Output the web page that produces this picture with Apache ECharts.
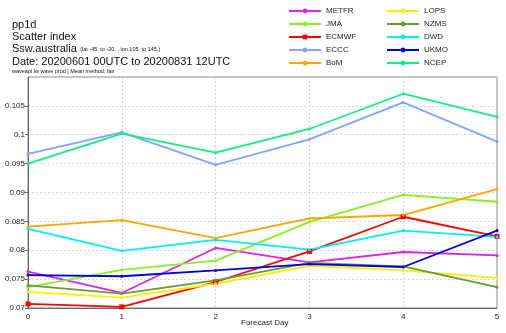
<!DOCTYPE html>
<html><head><meta charset="utf-8">
<script src="https://cdn.jsdelivr.net/npm/echarts@6/dist/echarts.min.js"></script>
<style>html,body{margin:0;padding:0;background:#fff}#c{width:506px;height:333px}</style>
</head><body><div id="c"></div>
<script>
const days = [0, 1, 2, 3, 4, 5];
const METFR = [0.0763, 0.0726, 0.0804, 0.0779, 0.0797, 0.0791];
const JMA   = [0.0736, 0.0766, 0.0782, 0.0849, 0.0896, 0.0884];
const ECMWF = [0.0707, 0.0702, 0.0745, 0.0798, 0.0858, 0.0824];
const ECCC  = [0.0967, 0.1004, 0.0948, 0.0992, 0.1056, 0.0988];
const BoM   = [0.0841, 0.0852, 0.0821, 0.0855, 0.0861, 0.0906];
const LOPS  = [0.0728, 0.0718, 0.0742, 0.0773, 0.0765, 0.0752];
const NZMS  = [0.0739, 0.0725, 0.0748, 0.0778, 0.0772, 0.0736];
const DWD   = [0.0837, 0.0799, 0.0818, 0.0801, 0.0834, 0.0823];
const UKMO  = [0.0757, 0.0755, 0.0765, 0.0776, 0.0771, 0.0834];
const NCEP  = [0.0950, 0.1002, 0.0969, 0.1010, 0.1071, 0.1031];
const yTicks = [0.07, 0.075, 0.08, 0.085, 0.09, 0.095, 0.1, 0.105];

const seriesDefs = [
  ['METFR', METFR, '#dd22ee', 'circle'],
  ['JMA', JMA, '#88f022', 'circle'],
  ['ECMWF', ECMWF, '#ff0000', 'rect'],
  ['ECCC', ECCC, '#7fa6ff', 'circle'],
  ['BoM', BoM, '#ffa500', 'circle'],
  ['LOPS', LOPS, '#f5f000', 'circle'],
  ['NZMS', NZMS, '#6a9a32', 'circle'],
  ['DWD', DWD, '#00f0f0', 'circle'],
  ['UKMO', UKMO, '#0000dd', 'circle'],
  ['NCEP', NCEP, '#10f080', 'circle']
];

const chart = echarts.init(document.getElementById('c'), null, {renderer: 'canvas'});
const font = 'Liberation Sans, Arial, sans-serif';
const legendBase = {
  orient: 'vertical', itemWidth: 32, itemHeight: 6, itemGap: 3,
  textStyle: {fontFamily: font, fontSize: 8, color: '#222', lineHeight: 10},
  selectedMode: false, padding: 0
};
const option = {
  animation: false,
  backgroundColor: '#fff',
  textStyle: {fontFamily: font},
  legend: [
    Object.assign({}, legendBase, {left: 288, top: 6, data: seriesDefs.slice(0,5).map(s => s[0])}),
    Object.assign({}, legendBase, {left: 386, top: 6, data: seriesDefs.slice(5).map(s => s[0])})
  ],
  graphic: [
    {type: 'text', left: 12, top: 19, style: {text: 'pp1d', font: '11px Liberation Sans', fill: '#111'}},
    {type: 'text', left: 12, top: 31, style: {text: 'Scatter index', font: '11px Liberation Sans', fill: '#111'}},
    {type: 'text', left: 12, top: 43, style: {rich: {a: {font: '11px Liberation Sans', fill: '#111'}, b: {font: '5.5px Liberation Sans', fill: '#111'}}, text: '{a|Ssw.australia} {b|(lat -45. to -20. , lon 105. to 145.)}'}},
    {type: 'text', left: 12, top: 56, style: {text: 'Date: 20200601 00UTC to 20200831 12UTC', font: '11px Liberation Sans', fill: '#111'}},
    {type: 'text', left: 12, top: 68, style: {text: 'waveapi lw wave prod | Mean method: fair', font: '5.5px Liberation Sans', fill: '#111'}},
    {type: 'text', left: 241, top: 319, style: {text: 'Forecast Day', font: '8px Liberation Sans', fill: '#222'}}
  ],
  grid: {left: 28, right: 9, top: 77, bottom: 25, show: true, borderColor: '#888', borderWidth: 1, containLabel: false, outerBoundsMode: 'none'},
  xAxis: {
    type: 'value', min: 0, max: 5, interval: 1,
    axisLine: {show: true, lineStyle: {color: '#666'}},
    axisTick: {show: false},
    axisLabel: {fontSize: 8, color: '#222', margin: 5, fontFamily: font},
    splitLine: {show: true, lineStyle: {color: '#ccc', type: [2, 2], width: 0.8}}
  },
  yAxis: {
    type: 'value', min: 0.07, max: 0.11, interval: 0.005,
    axisLine: {show: true, lineStyle: {color: '#666'}},
    axisTick: {show: true, length: 3, lineStyle: {color: '#666'}},
    axisLabel: {fontSize: 8, color: '#222', margin: 3, fontFamily: font, showMaxLabel: false,
      formatter: v => { const t = yTicks.find(x => Math.abs(x - v) < 1e-9); return t === undefined ? '' : String(t); }},
    splitLine: {show: true, lineStyle: {color: '#ccc', type: [2, 2], width: 0.8}}
  },
  series: seriesDefs.map(([name, vals, color, sym]) => ({
    name, type: 'line',
    data: days.map((d, i) => [d, vals[i]]),
    symbol: sym, symbolSize: sym === 'rect' ? 5 : 3, showSymbol: true,
    lineStyle: {color, width: 1.8},
    itemStyle: {color},
    clip: false
  }))
};
chart.setOption(option);
</script></body></html>
